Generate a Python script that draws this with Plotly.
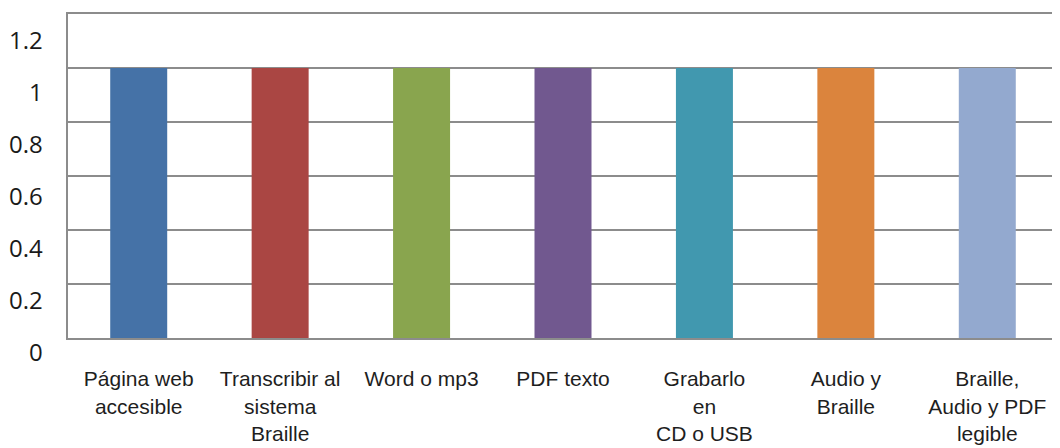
import plotly.graph_objects as go

categories = [
    "Página web<br>accesible",
    "Transcribir al<br>sistema<br>Braille",
    "Word o mp3",
    "PDF texto",
    "Grabarlo<br>en<br>CD o USB",
    "Audio y<br>Braille",
    "Braille,<br>Audio y PDF<br>legible",
]
values = [1, 1, 1, 1, 1, 1, 1]
colors = ["#4572A7", "#AA4643", "#89A54E", "#71588F", "#4198AF", "#DB843D", "#93A9CF"]
y_ticks = [0, 0.2, 0.4, 0.6, 0.8, 1.0, 1.2]
y_tick_text = ["0", "0.2", "0.4", "0.6", "0.8", "1", "1.2"]

fig = go.Figure(
    go.Bar(
        x=categories,
        y=values,
        marker=dict(color=colors, line=dict(width=0)),
        showlegend=False,
    )
)

grid_color = "#8c8c8c"

fig.update_layout(
    width=1060,
    height=448,
    margin=dict(l=60, r=10, t=4, b=118),
    paper_bgcolor="white",
    plot_bgcolor="white",
    bargap=0.597,
    font=dict(family="Liberation Sans, Arial, sans-serif", size=21, color="#1e1e1e"),
)

fig.update_xaxes(
    showline=True,
    mirror=True,
    linecolor=grid_color,
    linewidth=2,
    showgrid=False,
    ticks="",
    ticklabelstandoff=21,
    tickfont=dict(size=21, color="#1e1e1e"),
)

fig.update_yaxes(
    range=[0, 1.2],
    tickvals=y_ticks,
    showticklabels=False,
    showgrid=True,
    gridcolor=grid_color,
    gridwidth=2,
    zeroline=False,
    showline=True,
    linecolor=grid_color,
    linewidth=2,
)

# y labels sit slightly below their gridlines in the reference
for v, t in zip(y_ticks, y_tick_text):
    fig.add_annotation(
        x=0, xref="paper", y=v, yref="y",
        text=t, showarrow=False,
        xanchor="right", yanchor="middle",
        xshift=-23, yshift=-(13 + 10.7 * v),
        font=dict(family="Open Sans, sans-serif", size=24, color="#1a1a1a"),
    )

fig.write_html("out.html")
